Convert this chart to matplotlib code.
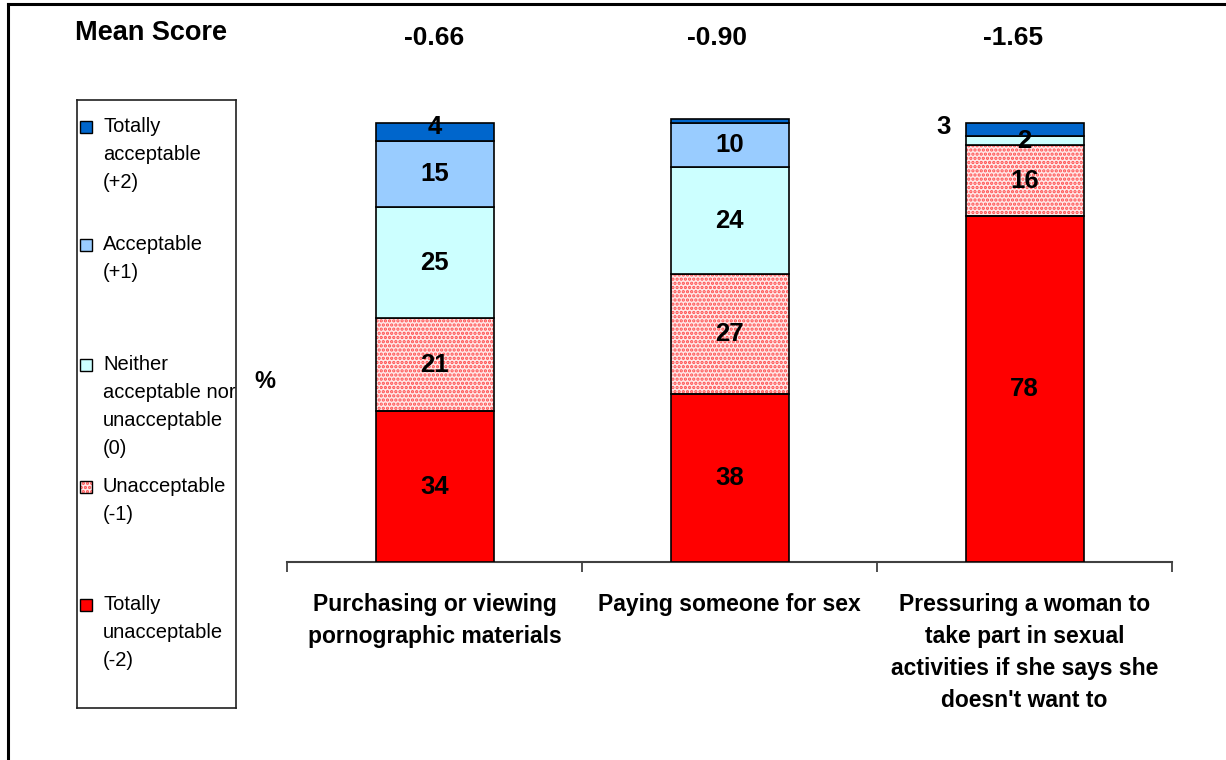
import matplotlib
matplotlib.use("Agg")
import matplotlib.pyplot as plt
from matplotlib import font_manager
from matplotlib.patches import Rectangle
from matplotlib.lines import Line2D

# ---- data -------------------------------------------------------------
categories = [
    "Purchasing or viewing\npornographic materials",
    "Paying someone for sex",
    "Pressuring a woman to\ntake part in sexual\nactivities if she says she\ndoesn't want to",
]
mean_scores = ["-0.66", "-0.90", "-1.65"]

series_names = [
    "Totally\nunacceptable\n(-2)",
    "Unacceptable\n(-1)",
    "Neither\nacceptable nor\nunacceptable\n(0)",
    "Acceptable\n(+1)",
    "Totally\nacceptable\n(+2)",
]
totally_unacceptable = [34, 38, 78]
unacceptable = [21, 27, 16]
neither = [25, 24, 2]
acceptable = [15, 10, 0]
totally_acceptable = [4, 1, 3]

# ---- fonts ------------------------------------------------------------
available = {f.name for f in font_manager.fontManager.ttflist}
SANS = "Liberation Sans"
if "Liberation Sans Narrow" in available:
    NARROW, narrow_size, cat_size = "Liberation Sans Narrow", 19, 18.5
else:
    NARROW, narrow_size, cat_size = SANS, 18.5, 16.5
plt.rcParams["font.family"] = [SANS, "DejaVu Sans"]
plt.rcParams["hatch.linewidth"] = 1.6

W, H = 1226, 760
fig = plt.figure(figsize=(W / 100, H / 100), dpi=100)


def fx(x):
    return x / W


def fy(y):
    return 1 - y / H


# ---- outer frame (top and left edges) --------------------------------
fig.add_artist(Line2D([fx(8), 1.0], [fy(4), fy(4)], color="black", lw=2.2))
fig.add_artist(Line2D([fx(8), fx(8)], [fy(4), 0.0], color="black", lw=2.2))

# ---- main axes -------------------------------------------------------
ax_l, ax_r, ax_b, ax_t = 287, 1172, 562, 100
ax = fig.add_axes([fx(ax_l), fy(ax_b), fx(ax_r - ax_l), fy(ax_t) - fy(ax_b)])
ax.set_xlim(-0.5, 2.5)
ax.set_ylim(0, 104.2)

colors = ["#ff0000", "#ffe8e8", "#ccffff", "#99ccff", "#0066cc"]
stack = [totally_unacceptable, unacceptable, neither, acceptable, totally_acceptable]
x = list(range(len(categories)))
width = 0.4

bottoms = [0, 0, 0]
for i, vals in enumerate(stack):
    if i == 1:
        # dotted fill for the "Unacceptable" band
        ax.bar(x, vals, width, bottom=bottoms, color=colors[i],
               edgecolor="#ff4d4d", hatch="....", linewidth=0, zorder=2)
        ax.bar(x, vals, width, bottom=bottoms, fill=False,
               edgecolor="black", linewidth=1.2, zorder=3)
    else:
        ax.bar(x, vals, width, bottom=bottoms, color=colors[i],
               edgecolor="black", linewidth=1.2, zorder=3)
    for j, v in enumerate(vals):
        if v >= 2:
            cy = bottoms[j] + v / 2
            cx = x[j]
            ha = "center"
            if i == 4 and j == 2:
                # small top segment: value set beside the bar
                cx = x[j] - width / 2 - 0.05
                ha = "right"
                cy = bottoms[j] + v / 2 + 0.5
            elif i == 4:
                cy += 1.0
            ax.text(cx, cy, str(v), ha=ha, va="center", fontsize=narrow_size,
                    fontweight="bold", family=[NARROW, "DejaVu Sans"], zorder=5)
    bottoms = [b + v for b, v in zip(bottoms, vals)]

for s in ["top", "right", "left"]:
    ax.spines[s].set_visible(False)
ax.spines["bottom"].set_color("#404040")
ax.spines["bottom"].set_linewidth(1.5)
ax.set_yticks([])
ax.set_xticks([-0.5, 0.5, 1.5, 2.5])
ax.set_xticklabels([])
ax.tick_params(axis="x", length=7, width=1.3, color="#404040", direction="out")

for j, lab in enumerate(categories):
    ax.text(x[j], -7.0, lab, ha="center", va="top", fontsize=cat_size,
            fontweight="bold", family=[NARROW, "DejaVu Sans"],
            linespacing=1.5, transform=ax.transData, clip_on=False)

# ---- mean scores ------------------------------------------------------
fig.text(fx(75), fy(33), "Mean Score", ha="left", va="center",
         fontsize=19.5, fontweight="bold")
mean_dx = [0, -12, -11]
for j, m in enumerate(mean_scores):
    px = ax.transData.transform((x[j], 0))[0]
    fig.text((px + mean_dx[j]) / W, fy(38), m, ha="center", va="center",
             fontsize=19, fontweight="bold")

fig.text(fx(265), fy(382), "%", ha="center", va="center", fontsize=17,
         fontweight="bold")

# ---- legend -----------------------------------------------------------
lg_l, lg_r, lg_t, lg_b = 77, 236, 100, 708
lax = fig.add_axes([fx(lg_l), fy(lg_b), fx(lg_r - lg_l), fy(lg_t) - fy(lg_b)])
lax.set_xlim(lg_l, lg_r)
lax.set_ylim(lg_b, lg_t)
lax.set_xticks([])
lax.set_yticks([])
for s in lax.spines.values():
    s.set_linewidth(1.2)
    s.set_color("#202020")

entry_y = [127, 245, 365, 487, 605]
legend_order = [4, 3, 2, 1, 0]
for y0, k in zip(entry_y, legend_order):
    if k == 1:
        lax.add_patch(Rectangle((80, y0 - 6), 12, 12, facecolor=colors[k],
                                edgecolor="#ff4d4d", hatch="....", lw=0))
        lax.add_patch(Rectangle((80, y0 - 6), 12, 12, fill=False,
                                edgecolor="black", lw=1.0))
    else:
        lax.add_patch(Rectangle((80, y0 - 6), 12, 12, facecolor=colors[k],
                                edgecolor="black", lw=1.0))
    for n, line in enumerate(series_names[k].split("\n")):
        lax.text(103, y0 + n * 28, line, ha="left", va="center",
                 fontsize=14.5, clip_on=True)

fig.savefig("out.png", dpi=100)
